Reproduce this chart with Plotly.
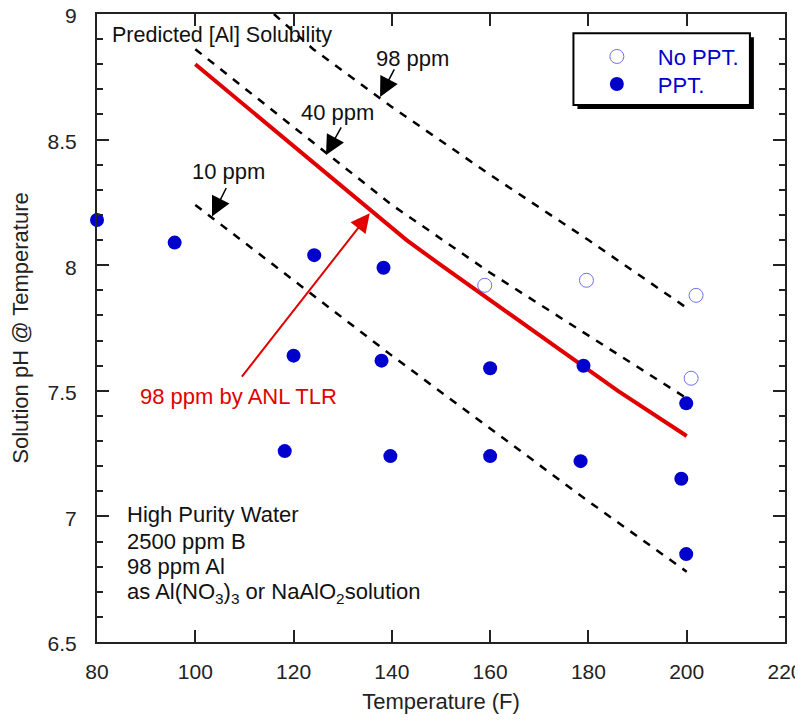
import plotly.graph_objects as go

# measured points (temperature F, pH at temperature)
ppt_temp = [80, 95.8, 124.2, 138.3, 120, 137.9, 160, 179, 199.9, 118.2, 139.7, 160, 178.4, 198.9, 199.9]
ppt_ph = [8.18, 8.09, 8.04, 7.99, 7.64, 7.62, 7.59, 7.60, 7.45, 7.26, 7.24, 7.24, 7.22, 7.15, 6.85]
noppt_temp = [158.9, 179.6, 201.9, 200.9]
noppt_ph = [7.92, 7.94, 7.88, 7.55]

# ANL TLR 98 ppm curve
anl_temp = [100, 143, 150, 186, 200]
anl_ph = [8.80, 8.10, 8.00, 7.50, 7.32]

# predicted solubility lines
sol_temp = [100, 120, 140, 160, 180, 200]
sol10_ph = [8.24, 7.94, 7.64, 7.35, 7.06, 6.78]
sol40_ph = [8.86, 8.55, 8.24, 7.97, 7.72, 7.47]
sol98_temp = [116, 124, 140, 160, 180, 200]
sol98_ph = [9.0, 8.86, 8.63, 8.36, 8.10, 7.83]

note_lines = ["High Purity Water", "2500 ppm B", "98 ppm Al",
              "as Al(NO<sub>3</sub>)<sub>3</sub> or NaAlO<sub>2</sub>solution"]

FONT = "Arial, Liberation Sans, sans-serif"
BLUE = "#0000CC"
RED = "#E00000"

fig = go.Figure()

for xs, ys in [(sol_temp, sol10_ph), (sol_temp, sol40_ph), (sol98_temp, sol98_ph)]:
    fig.add_trace(go.Scatter(x=xs, y=ys, mode="lines", showlegend=False, hoverinfo="skip",
                             line=dict(color="black", width=2.5, dash="8px,8px")))

fig.add_trace(go.Scatter(x=anl_temp, y=anl_ph, mode="lines", showlegend=False,
                         line=dict(color=RED, width=4)))

fig.add_trace(go.Scatter(x=noppt_temp, y=noppt_ph, mode="markers", name="No PPT.", cliponaxis=False,
                         legend="legend",
                         marker=dict(symbol="circle-open", size=14, color="#6F6FF0", line=dict(width=1))))
fig.add_trace(go.Scatter(x=ppt_temp, y=ppt_ph, mode="markers", name="PPT.", cliponaxis=False,
                         legend="legend2",
                         marker=dict(symbol="circle", size=14, color=BLUE)))

annotations = [
    dict(x=0.019, y=0.9666, xref="paper", yref="paper", xanchor="left", yanchor="middle",
         text="Predicted [Al] Solubility", showarrow=False, font=dict(size=21.5)),
    dict(x=144.25, y=8.824, text="98 ppm", showarrow=False),
    dict(x=128.9, y=8.607, text="40 ppm", showarrow=False),
    dict(x=106.7, y=8.373, text="10 ppm", showarrow=False),
    dict(x=137.6, y=8.67, text="", showarrow=True, ax=15, ay=-29),
    dict(x=126.6, y=8.439, text="", showarrow=True, ax=16, ay=-29),
    dict(x=103.4, y=8.194, text="", showarrow=True, ax=15, ay=-30),
    dict(x=135.5, y=8.207, text="", showarrow=True, ax=-129, ay=165,
         arrowcolor=RED, arrowwidth=2, arrowsize=1.9),
    dict(x=108.7, y=7.478, text="98 ppm by ANL TLR", showarrow=False, font=dict(color=RED)),
]
# bottom-left conditions block, one annotation per line
note_y = [0.2029, 0.1604, 0.1197, 0.0783]
for txt, yy in zip(note_lines, note_y):
    annotations.append(dict(x=0.040, y=yy, xref="paper", yref="paper", xanchor="left",
                            yanchor="middle", text=txt, showarrow=False))
for a in annotations:
    if a.get("showarrow") and "arrowcolor" not in a:
        a.update(arrowcolor="black", arrowwidth=1.5, arrowsize=2.6)
    a.setdefault("arrowhead", 2)
fig.update_layout(annotations=annotations)

# legend frame with drop shadow
fig.add_shape(type="rect", xref="paper", yref="paper", x0=0.6983, x1=0.9548, y0=0.8488, y1=0.9629,
              fillcolor="black", line=dict(width=0), layer="below")
fig.add_shape(type="rect", xref="paper", yref="paper", x0=0.6925, x1=0.949, y0=0.8552, y1=0.9693,
              fillcolor="white", line=dict(color="black", width=2), layer="below")

axis_common = dict(showline=True, linecolor="#222", linewidth=2, mirror="ticks", ticks="inside",
                   ticklen=12, tickwidth=2, tickcolor="#222", showgrid=False, zeroline=False,
                   ticklabeloverflow="allow",
                   tickfont=dict(size=21, color="#222"), title_font=dict(size=22, color="#222"))

fig.update_xaxes(range=[80, 220], dtick=20, title_text="Temperature (F)", title_standoff=11,
                 ticklabelstandoff=10, **axis_common)
fig.update_yaxes(range=[6.5, 9], dtick=0.5, title_text="Solution pH @ Temperature", title_standoff=16,
                 ticklabelstandoff=14, ticklabelshift=2,
                 minor=dict(dtick=0.1, ticks="inside", ticklen=6, tickwidth=2, tickcolor="#222"),
                 **axis_common)

legend_common = dict(xanchor="left", yanchor="top", bgcolor="rgba(0,0,0,0)", borderwidth=0,
                     itemwidth=72, font=dict(size=22, color=BLUE))
fig.update_layout(
    width=795, height=713,
    margin=dict(l=89, r=18, t=6, b=79, autoexpand=False),
    plot_bgcolor="white", paper_bgcolor="white",
    font=dict(family=FONT, size=22, color="#111"),
    legend=dict(x=0.696, y=0.9655, **legend_common),
    legend2=dict(x=0.696, y=0.9216, **legend_common),
)

fig.write_html("out.html")
